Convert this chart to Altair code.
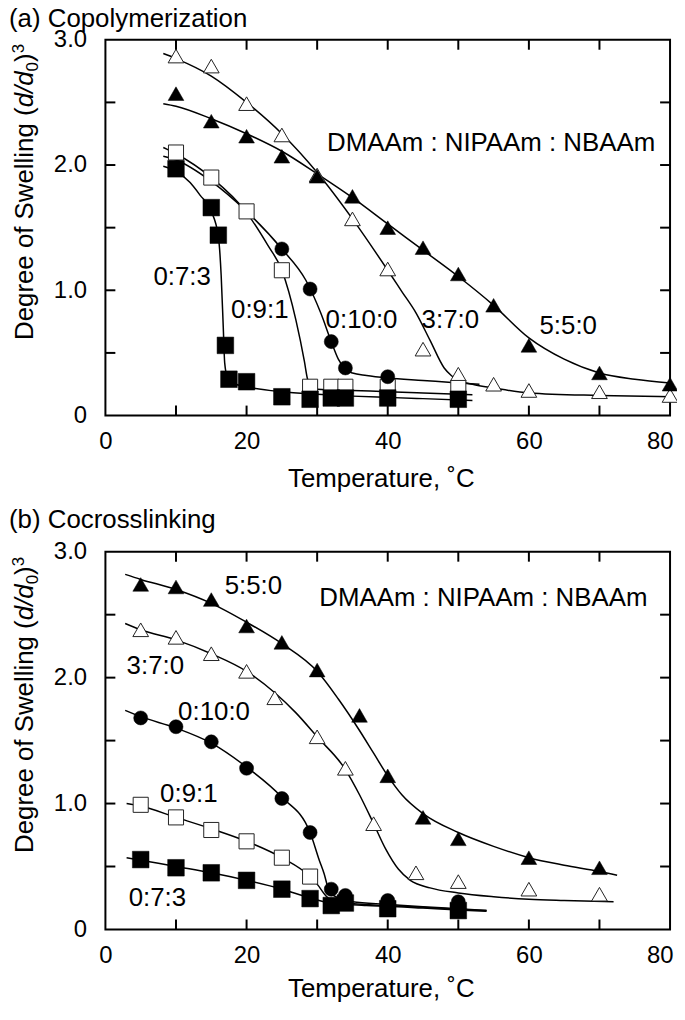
import altair as alt
import pandas as pd

FONT = "Liberation Sans"
W = 568
HA = 378
HB = 380

# ---------------- Panel (a) Copolymerization : markers ----------------
a_s73_T = [10, 15, 16, 17, 17.5, 20, 25, 29, 32, 34, 40, 50]
a_s73_S = [1.97, 1.66, 1.44, 0.56, 0.29, 0.27, 0.15, 0.13, 0.14, 0.14, 0.14, 0.13]
a_s91_T = [10, 15, 20, 25, 29, 32, 34, 40, 50]
a_s91_S = [2.10, 1.90, 1.63, 1.16, 0.23, 0.23, 0.23, 0.23, 0.22]
a_c100_T = [25, 29, 32, 34, 40]
a_c100_S = [1.33, 1.01, 0.59, 0.38, 0.31]
a_t370_T = [10, 15, 20, 25, 30, 35, 40, 45, 50, 55, 60, 70, 80]
a_t370_S = [2.87, 2.79, 2.49, 2.24, 1.92, 1.57, 1.17, 0.53, 0.33, 0.25, 0.20, 0.19, 0.16]
a_t550_T = [10, 15, 20, 25, 30, 35, 40, 45, 50, 55, 60, 70, 80]
a_t550_S = [2.57, 2.35, 2.23, 2.07, 1.91, 1.75, 1.50, 1.34, 1.13, 0.88, 0.56, 0.34, 0.25]

# ---------------- Panel (a) fitted curves ----------------
a_l550_T = [8.2, 10, 15, 20, 25, 30, 35, 40, 45, 50, 55, 60, 65, 70, 75, 80]
a_l550_S = [2.49, 2.47, 2.37, 2.25, 2.11, 1.93, 1.74, 1.53, 1.32, 1.11, 0.88, 0.62, 0.45, 0.34, 0.29, 0.26]
a_l370_T = [8.2, 10, 15, 20, 25, 30, 35, 40, 42, 44, 46, 48, 49, 50, 52, 55, 60, 70, 80]
a_l370_S = [2.89, 2.85, 2.71, 2.50, 2.25, 1.94, 1.57, 1.16, 0.99, 0.82, 0.60, 0.38, 0.32, 0.28, 0.25, 0.22, 0.18, 0.16, 0.15]
a_l100_T = [8.2, 10, 15, 20, 25, 28.4, 30.5, 32, 33, 34, 35, 37, 40, 45, 50, 53]
a_l100_S = [2.07, 2.04, 1.87, 1.63, 1.33, 1.08, 0.82, 0.59, 0.45, 0.37, 0.34, 0.32, 0.30, 0.28, 0.26, 0.25]
a_l91_T = [8.2, 10, 15, 20, 23, 25, 27, 28.2, 28.6, 29, 30, 35, 40, 45, 52]
a_l91_S = [2.14, 2.09, 1.90, 1.62, 1.36, 1.16, 0.76, 0.43, 0.30, 0.24, 0.21, 0.20, 0.19, 0.18, 0.165]
a_l73_T = [8.2, 10, 12, 13.4, 15, 16, 16.4, 16.7, 16.9, 17.3, 18, 20, 25, 30, 35, 40, 45, 52]
a_l73_S = [1.99, 1.95, 1.86, 1.76, 1.63, 1.43, 1.12, 0.70, 0.42, 0.30, 0.26, 0.23, 0.19, 0.17, 0.155, 0.145, 0.135, 0.12]

# ---------------- Panel (b) Cocrosslinking : markers ----------------
b_s73_T = [5, 10, 15, 20, 25, 29, 32, 34, 40, 50]
b_s73_S = [0.555, 0.49, 0.45, 0.39, 0.32, 0.245, 0.19, 0.21, 0.165, 0.15]
b_s91_T = [5, 10, 15, 20, 25, 29]
b_s91_S = [0.99, 0.89, 0.79, 0.70, 0.57, 0.42]
b_c100_T = [5, 10, 15, 20, 25, 29, 32, 34, 40, 50]
b_c100_S = [1.68, 1.61, 1.49, 1.28, 1.04, 0.77, 0.32, 0.27, 0.23, 0.22]
b_t370_T = [5, 10, 15, 20, 24, 30, 34, 38, 44, 50, 60, 70]
b_t370_S = [2.38, 2.32, 2.19, 2.05, 1.84, 1.53, 1.28, 0.84, 0.45, 0.38, 0.32, 0.28]
b_t550_T = [5, 10, 15, 20, 25, 30, 36, 40, 45, 50, 60, 70]
b_t550_S = [2.74, 2.72, 2.62, 2.41, 2.28, 2.06, 1.70, 1.22, 0.89, 0.72, 0.57, 0.49]

# ---------------- Panel (b) fitted curves ----------------
b_l550_T = [2.8, 5, 10, 15, 20, 25, 30, 33, 36, 38, 40, 42, 45, 50, 55, 60, 65, 70, 72.5]
b_l550_S = [2.82, 2.78, 2.70, 2.59, 2.44, 2.27, 2.05, 1.83, 1.58, 1.40, 1.22, 1.07, 0.92, 0.77, 0.66, 0.57, 0.51, 0.46, 0.43]
b_l370_T = [2.8, 5, 10, 15, 20, 24, 27, 30, 34, 36, 38, 39.7, 41.5, 43.2, 46, 50, 55, 60, 65, 72]
b_l370_S = [2.43, 2.38, 2.30, 2.19, 2.05, 1.88, 1.72, 1.53, 1.27, 1.07, 0.84, 0.64, 0.48, 0.39, 0.33, 0.29, 0.26, 0.24, 0.23, 0.22]
b_l100_T = [2.8, 5, 10, 15, 20, 25, 29, 30.3, 31, 31.5, 32, 33, 35, 40, 45, 50, 54]
b_l100_S = [1.74, 1.69, 1.60, 1.48, 1.29, 1.05, 0.77, 0.55, 0.44, 0.34, 0.29, 0.25, 0.22, 0.20, 0.18, 0.165, 0.15]
b_l91_T = [3, 5, 10, 15, 20, 25, 29, 30, 31.2, 32, 34, 40, 50, 54]
b_l91_S = [1.00, 0.98, 0.89, 0.80, 0.70, 0.57, 0.42, 0.36, 0.27, 0.23, 0.21, 0.19, 0.16, 0.15]
b_l73_T = [3, 5, 10, 15, 20, 25, 29, 32, 37, 40, 45, 50, 54]
b_l73_S = [0.57, 0.55, 0.50, 0.45, 0.39, 0.32, 0.25, 0.21, 0.19, 0.185, 0.17, 0.155, 0.145]

# ---------------- annotations ----------------
header_txt = "DMAAm : NIPAAm : NBAAm"
a_head_T, a_head_S = 77.9, 2.11      # right end of the header text
b_head_T, b_head_S = 76.8, 2.57
a_lab_txt = ["0:7:3", "0:9:1", "0:10:0", "3:7:0", "5:5:0"]
a_lab_T = [6.8, 17.8, 31.2, 44.8, 61.5]
a_lab_S = [1.04, 0.78, 0.70, 0.70, 0.65]
b_lab_txt = ["5:5:0", "3:7:0", "0:10:0", "0:9:1", "0:7:3"]
b_lab_T = [16.9, 3.0, 10.3, 7.75, 3.3]
b_lab_S = [2.665, 2.03, 1.665, 1.01, 0.19]

x_tick_vals = [10, 20, 30, 40, 50, 60, 70]
y_tick_vals = [0.5, 1.0, 1.5, 2.0, 2.5]
x_label_vals = [0, 20, 40, 60, 80]
y_label_vals = [0, 1, 2, 3]


def panel(H, markers, curves, labels, header, title, title_y, xtitle_pad):
    xs = alt.Scale(domain=[0, 80], nice=False, zero=False)
    ys = alt.Scale(domain=[0, 3], nice=False, zero=False)
    xaxis = alt.Axis(values=x_label_vals, format="d", title="Temperature, ˚C",
                     titleFontSize=26, titleFont=FONT, titleFontWeight="normal",
                     titleColor="black", titlePadding=xtitle_pad, titleX=W / 2 - 7,
                     labelFontSize=24, labelFont=FONT, labelColor="black",
                     labelPadding=14, ticks=False, tickSize=0, domain=False,
                     grid=False, labelFlush=False, labelOverlap=False,
                     labelAlign={"condition": {"test": "datum.value == 80", "value": "right"},
                                 "value": "center"},
                     labelOffset={"condition": {"test": "datum.value == 80", "value": 3},
                                  "value": 0})
    yaxis = alt.Axis(values=y_label_vals, title=None,
                     labelExpr="datum.value == 0 ? '0' : format(datum.value, '.1f')",
                     labelFontSize=24, labelFont=FONT, labelColor="black",
                     labelPadding=19, ticks=False, tickSize=0, domain=False,
                     grid=False, labelFlush=False, labelOverlap=False)

    def X():
        return alt.X("T:Q", scale=xs, axis=xaxis)

    def Y():
        return alt.Y("S:Q", scale=ys, axis=yaxis)

    layers = []
    for xT, yS in curves:
        df = pd.DataFrame({"T": xT, "S": yS})
        layers.append(
            alt.Chart(df).mark_line(interpolate="monotone", color="black", strokeWidth=1.5)
            .encode(x=X(), y=Y())
        )

    for xT, yS, shape, filled, size in markers:
        df = pd.DataFrame({"T": xT, "S": yS})
        if filled:
            m = alt.Chart(df).mark_point(shape=shape, filled=True, fill="black",
                                         stroke="black", strokeWidth=0.5, size=size, opacity=1)
        else:
            m = alt.Chart(df).mark_point(shape=shape, filled=True, fill="white",
                                         stroke="#222222", strokeWidth=1, size=size, opacity=1)
        layers.append(m.encode(x=X(), y=Y()))

    # inward tick marks on all four sides
    ydf = pd.DataFrame({"S": y_tick_vals})
    xdf = pd.DataFrame({"T": x_tick_vals})
    rule = dict(color="black", strokeWidth=2)
    layers.append(alt.Chart(ydf).mark_rule(**rule).encode(y=Y(), x=alt.value(0), x2=alt.value(10)))
    layers.append(alt.Chart(ydf).mark_rule(**rule).encode(y=Y(), x=alt.value(W - 10), x2=alt.value(W)))
    layers.append(alt.Chart(xdf).mark_rule(**rule).encode(x=X(), y=alt.value(H - 10), y2=alt.value(H)))
    layers.append(alt.Chart(xdf).mark_rule(**rule).encode(x=X(), y=alt.value(0), y2=alt.value(10)))

    # annotations in data coordinates
    txt, lt, ls = labels
    ldf = pd.DataFrame({"T": lt, "S": ls, "txt": txt})
    layers.append(
        alt.Chart(ldf).mark_text(align="left", baseline="alphabetic", fontSize=26,
                                 font=FONT, color="black")
        .encode(x=X(), y=Y(), text="txt:N")
    )
    htxt, hT, hS = header
    hdf = pd.DataFrame({"T": [hT], "S": [hS], "txt": [htxt]})
    layers.append(
        alt.Chart(hdf).mark_text(align="right", baseline="alphabetic", fontSize=26,
                                 font=FONT, color="black")
        .encode(x=X(), y=Y(), text="txt:N")
    )

    # panel title
    tdf = pd.DataFrame({"txt": [title]})
    layers.append(
        alt.Chart(tdf).mark_text(align="left", baseline="alphabetic", fontSize=26,
                                 font=FONT, color="black")
        .encode(x=alt.value(-97), y=alt.value(title_y), text="txt:N")
    )

    # rotated y-axis title pieces: Degree of Swelling (d/d0)^3
    y0 = H / 2 + 113
    pieces = [
        ("Degree of Swelling (", 26, "normal", -73, y0),
        ("d/d", 26, "italic", -73, y0 - 234.1),
        ("0", 17, "normal", -68, y0 - 234.1 - 36.1),
        (")", 26, "normal", -73, y0 - 234.1 - 36.1 - 9.5),
        ("3", 17, "normal", -81.5, y0 - 234.1 - 36.1 - 9.5 - 8.7),
    ]
    for s, fs, style, px, py in pieces:
        pdf = pd.DataFrame({"txt": [s]})
        layers.append(
            alt.Chart(pdf).mark_text(align="left", baseline="alphabetic", fontSize=fs,
                                     font=FONT, fontStyle=style, angle=270, color="black")
            .encode(x=alt.value(px), y=alt.value(py), text="txt:N")
        )

    return alt.layer(*layers).properties(width=W, height=H)


panel_a = panel(
    HA,
    [
        (a_t370_T, a_t370_S, "triangle-up", False, 250),
        (a_t550_T, a_t550_S, "triangle-up", True, 250),
        (a_s91_T, a_s91_S, "square", False, 230),
        (a_s73_T, a_s73_S, "square", True, 280),
        (a_c100_T, a_c100_S, "circle", True, 200),
    ],
    [(a_l550_T, a_l550_S), (a_l370_T, a_l370_S), (a_l100_T, a_l100_S),
     (a_l91_T, a_l91_S), (a_l73_T, a_l73_S)],
    (a_lab_txt, a_lab_T, a_lab_S),
    (header_txt, a_head_T, a_head_S),
    "(a) Copolymerization",
    -13,
    12,
)

panel_b = panel(
    HB,
    [
        (b_t370_T, b_t370_S, "triangle-up", False, 250),
        (b_t550_T, b_t550_S, "triangle-up", True, 250),
        (b_s91_T, b_s91_S, "square", False, 230),
        (b_c100_T, b_c100_S, "circle", True, 200),
        (b_s73_T, b_s73_S, "square", True, 280),
    ],
    [(b_l550_T, b_l550_S), (b_l370_T, b_l370_S), (b_l100_T, b_l100_S),
     (b_l91_T, b_l91_S), (b_l73_T, b_l73_S)],
    (b_lab_txt, b_lab_T, b_lab_S),
    (header_txt, b_head_T, b_head_S),
    "(b) Cocrosslinking",
    -24,
    8,
)

chart = (
    alt.vconcat(panel_a, panel_b, spacing=14)
    .properties(padding={"left": 0, "top": -6, "right": -4, "bottom": -3})
    .configure_view(stroke="black", strokeWidth=2)
)

chart.save("out.html", embed_options={"renderer": "svg", "actions": False})
